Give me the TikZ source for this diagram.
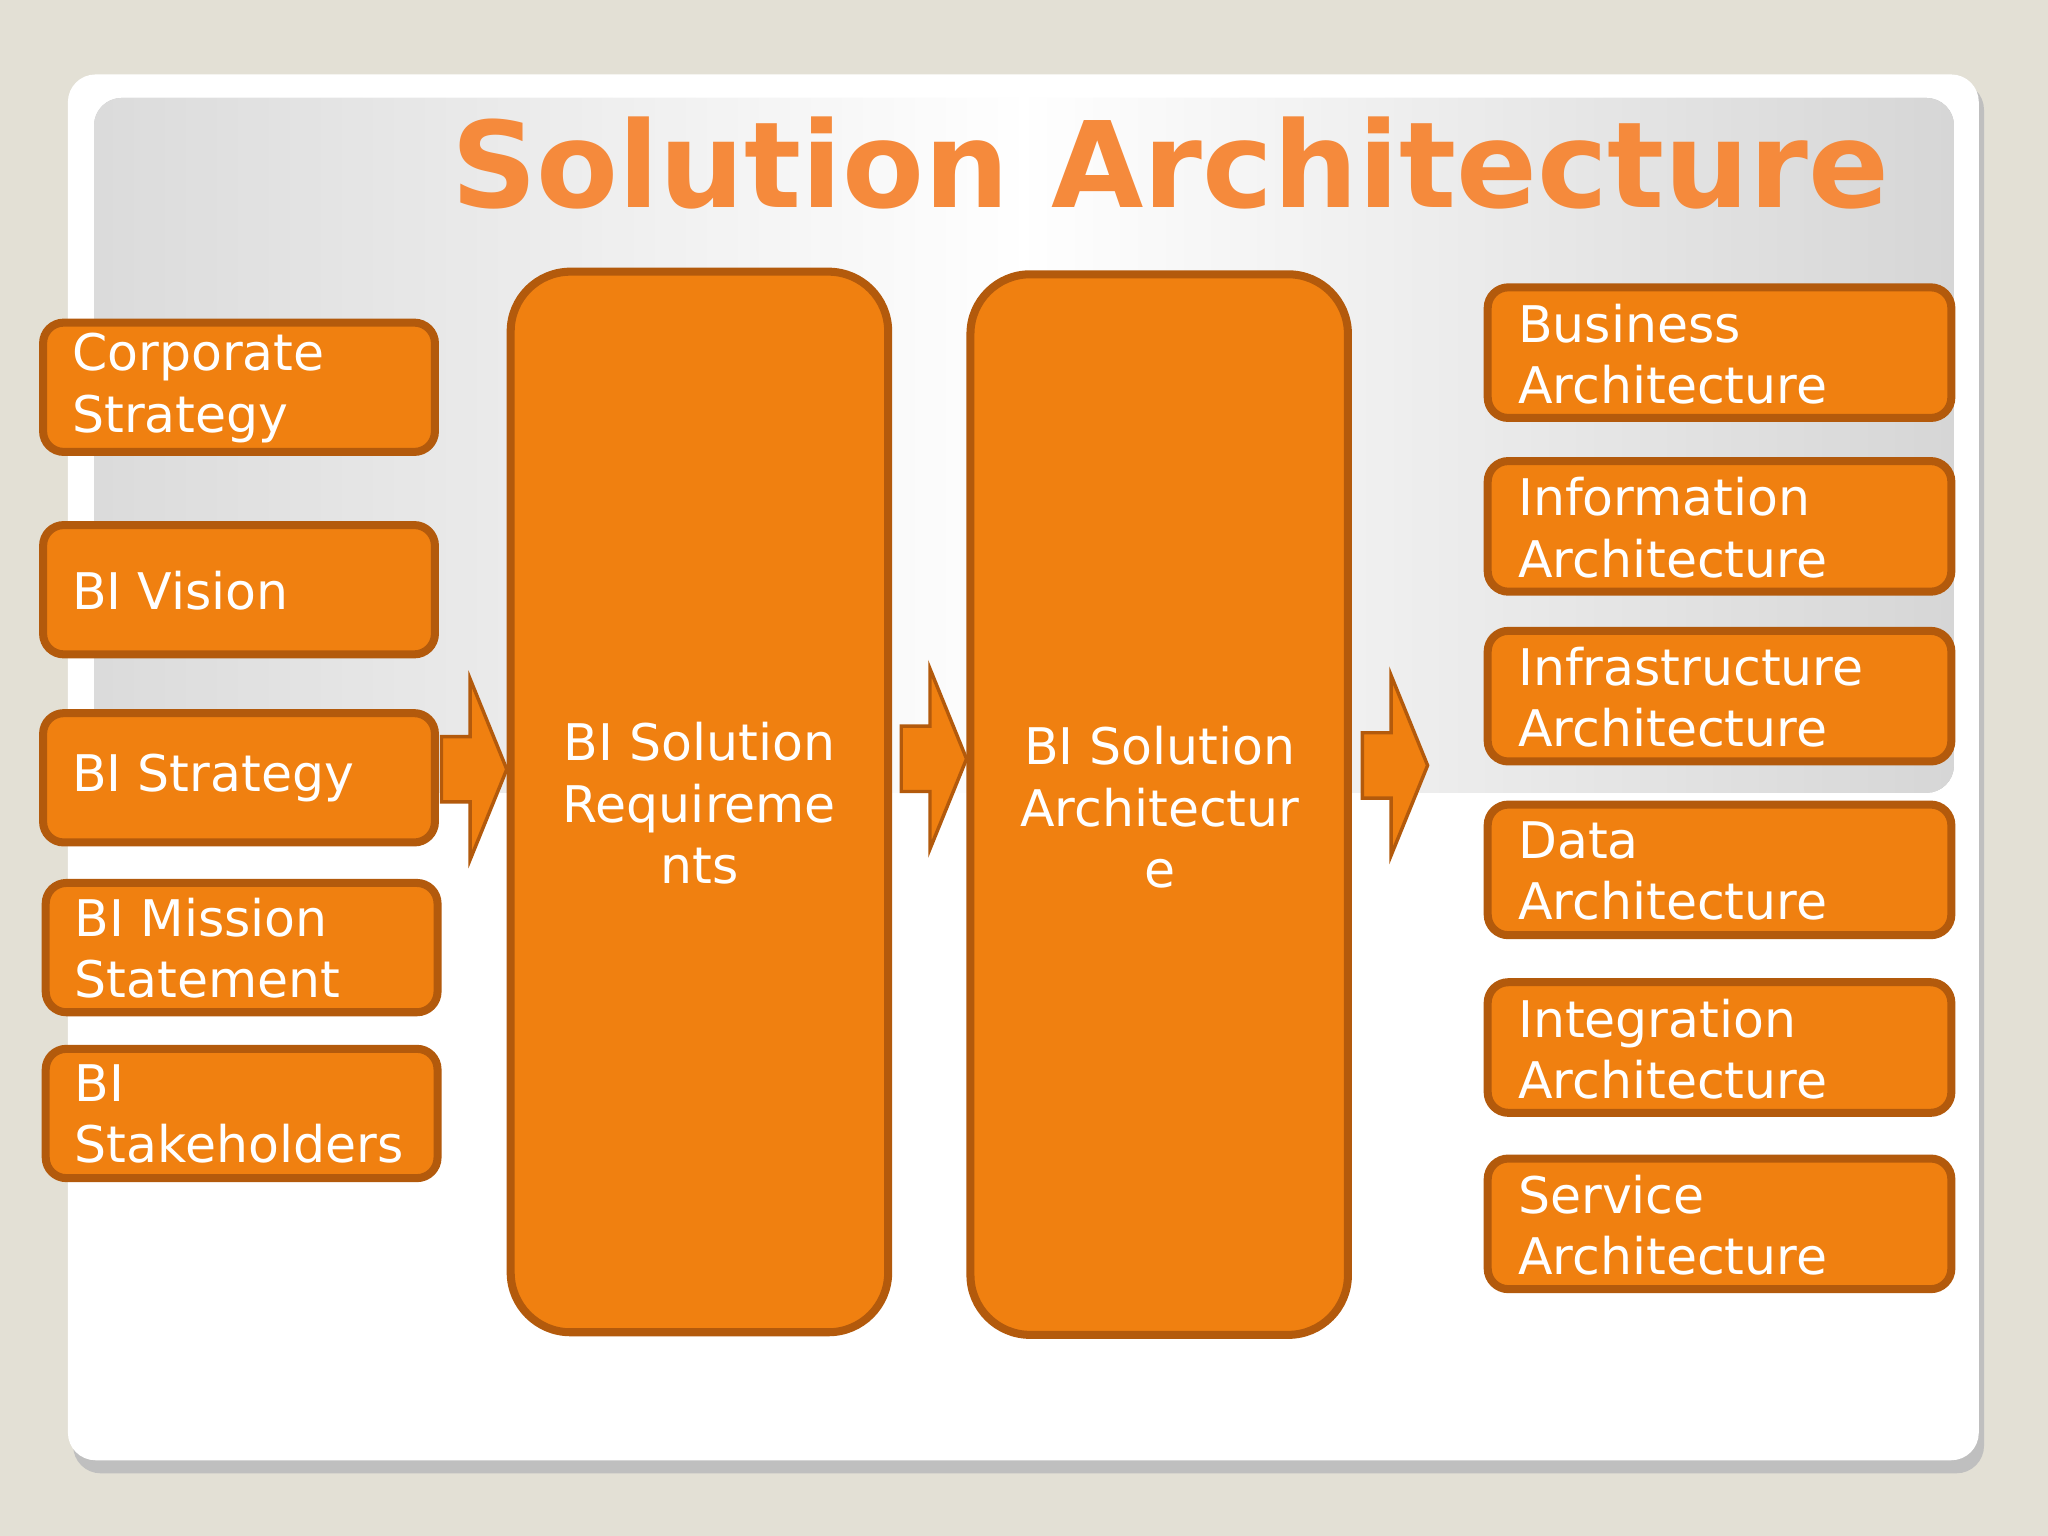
\documentclass[tikz,border=0pt]{standalone}
\usepackage{fontspec}
\setmainfont{DejaVu Sans}
\usetikzlibrary{shadows}
\definecolor{bgb}{HTML}{E3E0D5}
\definecolor{orf}{HTML}{F08010}
\definecolor{ord}{HTML}{B35A0C}
\definecolor{ttl}{HTML}{F58A3C}
\tikzset{
 box/.style={draw=ord,fill=orf,line width=3.5pt,rounded corners=9pt,text=white,align=left,anchor=north west,inner sep=0pt},
 big/.style={draw=ord,fill=orf,line width=3.5pt,rounded corners=26pt},
 arr/.style={draw=ord,fill=orf,line width=1.5pt,line join=miter},
 lbl/.style={text=white,font=\fontsize{22}{26.7}\selectfont,align=left,anchor=west,inner sep=0pt}
}
\begin{document}
\begin{tikzpicture}[x=0.02cm,y=-0.02cm]
\useasboundingbox (0,0) rectangle (1568,1176);
\fill[bgb] (0,0) rectangle (1568,1176);
\fill[black!25,rounded corners=12pt] (56,63) rectangle (1519,1128);
\fill[white,rounded corners=12pt] (52,57) rectangle (1515,1118);
\begin{scope}
\clip[rounded corners=12pt] (72,75) rectangle (1496,607);
\shade[left color=black!35,right color=black!40,middle color=white] (72,75) rectangle (1496,607);
\shade[top color=white!0!black!0,bottom color=white,opacity=0.6] (72,75) rectangle (1496,607);
\end{scope}
\node[text=ttl,font=\bfseries\fontsize{52}{60}\selectfont,anchor=center] (title) at (896,125) {Solution Architecture};
% left boxes
\foreach \n/\y/\x/\t in {cs/247/33/{Corporate\\Strategy},biv/402/33/{BI Vision},bis/546/33/{BI Strategy},bim/676/35/{BI Mission\\Statement},bish/803/35/{BI\\Stakeholders}}{
 \draw[box] (\x,\y) rectangle (\x+300,\y+99);
 \node[lbl] (\n) at (\x+22,\y+50) {\t};
}
% right boxes
\foreach \n/\y/\t in {ba/220/Business,ia/353/Information,infa/483/Infrastructure,da/616/Data,ina/752/Integration,sa/887/Service}{
 \draw[box] (1139,\y) rectangle (1494,\y+100);
 \node[lbl] (\n) at (1162,\y+51) {\t\\Architecture};
}
% big boxes
\draw[big] (391,208) rectangle (680,1020);
\node[text=white,font=\fontsize{22}{26.7}\selectfont,align=center] (req) at (535.5,615) {BI Solution\\Requireme\\nts};
\draw[big] (743,210) rectangle (1032,1022);
\node[text=white,font=\fontsize{22}{26.7}\selectfont,align=center] (arc) at (888,618) {BI Solution\\Architectur\\e};
% arrows
\foreach \x/\y in {338/589,690/581,1043/586}{
 \draw[arr] (\x,\y-25) -- (\x+22,\y-25) -- (\x+22,\y-69) -- (\x+50,\y) -- (\x+22,\y+69) -- (\x+22,\y+25) -- (\x,\y+25) -- cycle;
}
\end{tikzpicture}
\end{document}
